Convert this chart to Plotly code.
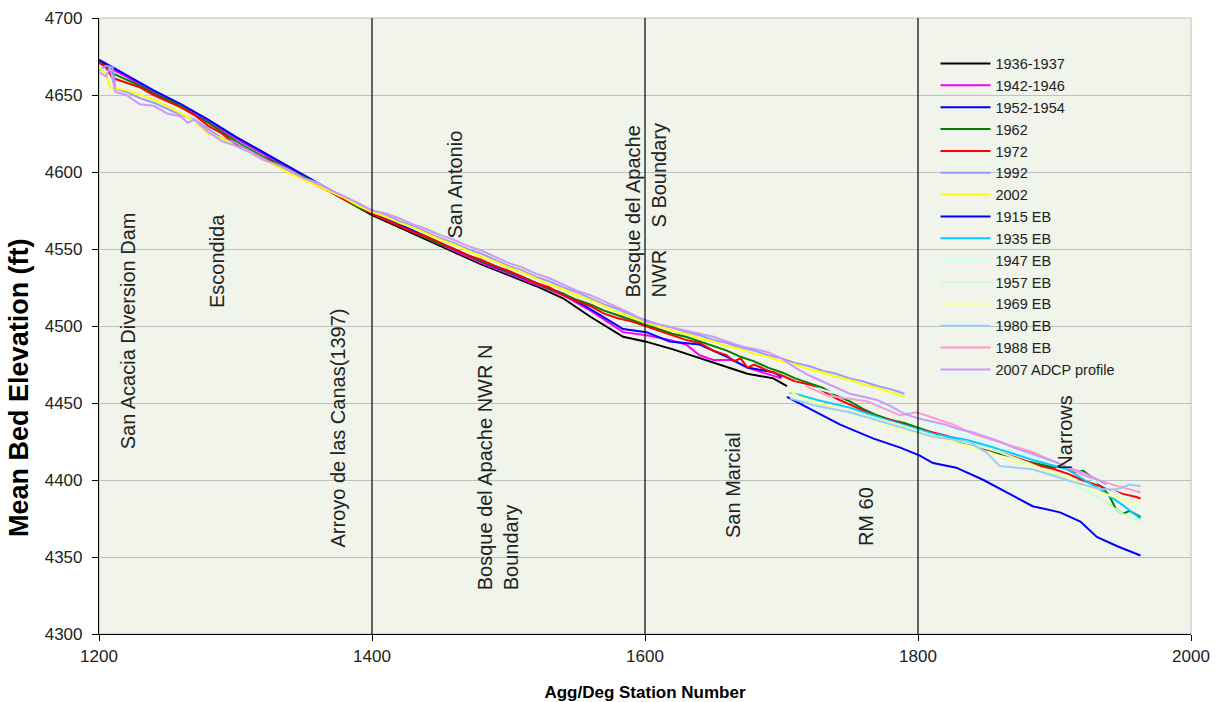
import plotly.graph_objects as go

# ---------------- data ----------------
st_1936 = [1200, 1220, 1240, 1260, 1280, 1300, 1320, 1340, 1360, 1380, 1400, 1420, 1440, 1460, 1480, 1500,
           1520, 1540, 1560, 1584, 1600, 1620, 1640, 1660, 1675, 1694, 1704]
el_1936 = [4672, 4662, 4652, 4643, 4633, 4622, 4612, 4602, 4592, 4582, 4572, 4564, 4556, 4548, 4540, 4533,
           4526, 4518, 4506, 4493, 4490, 4485, 4479, 4473, 4469, 4466, 4461]

st_1942 = [1200, 1220, 1240, 1260, 1280, 1300, 1320, 1340, 1360, 1380, 1400, 1420, 1440, 1460, 1480, 1500,
           1520, 1540, 1560, 1584, 1601, 1618, 1630, 1640, 1650, 1664, 1675, 1694, 1700]
el_1942 = [4671, 4662, 4652, 4643, 4633, 4622, 4612, 4602, 4592, 4582, 4573, 4565, 4557, 4549, 4541, 4534,
           4527, 4520, 4510, 4496, 4494, 4491, 4488, 4481, 4478, 4478, 4473, 4468, 4466]

st_1952 = [1200, 1220, 1240, 1260, 1280, 1300, 1320, 1340, 1360, 1380, 1400, 1420, 1440, 1460, 1480, 1500,
           1520, 1540, 1560, 1584, 1601, 1618, 1640, 1660, 1675, 1694, 1700]
el_1952 = [4673, 4663, 4653, 4644, 4634, 4623, 4613, 4603, 4593, 4583, 4573, 4566, 4558, 4550, 4542, 4535,
           4528, 4521, 4511, 4498, 4496, 4490, 4488, 4480, 4473, 4470, 4467]

st_1962 = [1200, 1210, 1220, 1230, 1240, 1250, 1260, 1270, 1280, 1290, 1300, 1310, 1320, 1330, 1340, 1350,
           1360, 1370, 1380, 1390, 1400, 1410, 1420, 1430, 1440, 1450, 1460, 1470, 1480, 1490, 1500, 1510,
           1520, 1530, 1540, 1550, 1560, 1570, 1580, 1590, 1600, 1610, 1620, 1630, 1640, 1650, 1660, 1670,
           1680, 1690, 1700, 1710, 1720, 1730, 1740, 1750, 1760, 1770, 1780, 1790, 1800, 1810, 1820, 1830,
           1840, 1850, 1860, 1870, 1880, 1890, 1900, 1906, 1915, 1921, 1930, 1940, 1945, 1950, 1955, 1963]
el_1962 = [4672, 4664, 4660, 4656, 4651, 4647, 4643, 4637, 4632, 4626, 4620, 4615, 4610, 4606, 4601, 4597,
           4592, 4587, 4582, 4577, 4573, 4569, 4565, 4561, 4557, 4553, 4550, 4546, 4542, 4539, 4535, 4532,
           4528, 4524, 4521, 4517, 4514, 4510, 4507, 4504, 4501, 4498, 4495, 4493, 4490, 4487, 4484, 4480,
           4477, 4473, 4470, 4466, 4463, 4460, 4455, 4451, 4446, 4442, 4439, 4437, 4434, 4431, 4428, 4425,
           4423, 4420, 4417, 4415, 4412, 4410, 4408, 4410, 4405, 4406, 4400, 4390, 4381, 4378, 4380, 4376]

st_1972 = [1200, 1205, 1210, 1220, 1230, 1240, 1250, 1260, 1270, 1280, 1290, 1300, 1310, 1320, 1330, 1340,
           1350, 1360, 1370, 1380, 1390, 1400, 1410, 1420, 1430, 1440, 1450, 1460, 1470, 1480, 1490, 1500,
           1510, 1520, 1530, 1540, 1550, 1560, 1570, 1580, 1590, 1600, 1610, 1620, 1630, 1640, 1650, 1660,
           1665, 1670, 1675, 1680, 1690, 1700, 1710, 1720, 1730, 1740, 1750, 1760, 1770, 1780, 1790, 1800,
           1810, 1820, 1830, 1840, 1850, 1860, 1870, 1880, 1890, 1900, 1910, 1920, 1930, 1940, 1950, 1960, 1963]
el_1972 = [4671, 4668, 4661, 4658, 4655, 4650, 4646, 4642, 4637, 4630, 4625, 4618, 4614, 4609, 4605, 4601,
           4596, 4591, 4587, 4582, 4578, 4573, 4569, 4565, 4561, 4558, 4554, 4550, 4546, 4543, 4539, 4536,
           4532, 4528, 4525, 4520, 4516, 4513, 4508, 4505, 4503, 4500, 4497, 4494, 4491, 4489, 4484, 4481,
           4477, 4479, 4473, 4475, 4471, 4468, 4464, 4462, 4458, 4453, 4449, 4445, 4441, 4439, 4436, 4433,
           4431, 4429, 4426, 4423, 4420, 4418, 4415, 4412, 4409, 4407, 4404, 4400, 4397, 4394, 4391, 4389, 4388]

st_1992 = [1200, 1205, 1210, 1212, 1220, 1230, 1240, 1250, 1260, 1270, 1280, 1290, 1300, 1310, 1320, 1330,
           1340, 1350, 1360, 1370, 1380, 1390, 1400, 1410, 1420, 1430, 1440, 1450, 1460, 1470, 1480, 1490,
           1500, 1510, 1520, 1530, 1540, 1550, 1560, 1570, 1580, 1590, 1600, 1610, 1620, 1630, 1640, 1650,
           1660, 1670, 1680, 1690, 1700, 1710, 1720, 1730, 1740, 1750, 1760, 1770, 1780, 1790]
el_1992 = [4666, 4669, 4668, 4654, 4652, 4648, 4645, 4641, 4637, 4634, 4628, 4622, 4619, 4614, 4609, 4604,
           4600, 4596, 4592, 4588, 4584, 4579, 4575, 4572, 4568, 4565, 4561, 4557, 4554, 4550, 4547, 4543,
           4539, 4536, 4532, 4529, 4525, 4522, 4518, 4514, 4511, 4507, 4504, 4501, 4499, 4496, 4494, 4491,
           4489, 4486, 4484, 4481, 4479, 4476, 4474, 4471, 4469, 4466, 4464, 4461, 4459, 4456]

st_2002 = [1200, 1205, 1208, 1220, 1230, 1240, 1250, 1260, 1270, 1280, 1290, 1300, 1310, 1320, 1330, 1340,
           1350, 1360, 1370, 1380, 1390, 1400, 1410, 1420, 1430, 1440, 1450, 1460, 1470, 1480, 1490, 1500,
           1510, 1520, 1530, 1540, 1550, 1560, 1570, 1580, 1590, 1600, 1610, 1620, 1630, 1640, 1650, 1660,
           1670, 1680, 1690, 1700, 1710, 1720, 1730, 1740, 1750, 1760, 1770, 1780, 1790]
el_2002 = [4668, 4664, 4655, 4653, 4650, 4647, 4643, 4638, 4633, 4625, 4622, 4617, 4613, 4608, 4604, 4599,
           4595, 4591, 4587, 4583, 4578, 4574, 4571, 4567, 4564, 4560, 4556, 4553, 4549, 4545, 4542, 4538,
           4535, 4531, 4527, 4524, 4520, 4517, 4513, 4509, 4506, 4502, 4500, 4497, 4495, 4492, 4490, 4487,
           4485, 4482, 4480, 4477, 4475, 4472, 4470, 4467, 4465, 4462, 4460, 4457, 4454]

st_1915eb = [1704, 1721, 1743, 1767, 1787, 1801, 1811, 1828, 1848, 1865, 1884, 1904, 1919, 1931, 1946, 1963]
el_1915eb = [4454, 4446, 4436, 4427, 4421, 4416, 4411, 4408, 4400, 4392, 4383, 4379, 4373, 4363, 4357, 4351]

st_1935eb = [1706, 1726, 1750, 1777, 1800, 1811, 1836, 1860, 1884, 1909, 1933, 1948, 1963]
el_1935eb = [4457, 4452, 4447, 4439, 4433, 4430, 4426, 4420, 4413, 4407, 4394, 4385, 4375]

st_1947eb = [1709, 1738, 1760, 1790, 1810, 1836, 1860, 1884, 1909, 1933, 1963]
el_1947eb = [4463, 4457, 4452, 4444, 4437, 4429, 4421, 4415, 4409, 4398, 4383]

st_1957eb = [1712, 1738, 1762, 1790, 1811, 1836, 1860, 1884, 1909, 1933, 1950, 1963]
el_1957eb = [4452, 4447, 4442, 4435, 4429, 4424, 4418, 4410, 4400, 4388, 4378, 4373]

st_1969eb = [1706, 1713, 1750, 1787, 1811, 1836, 1860, 1884, 1909, 1933, 1963]
el_1969eb = [4458, 4454, 4444, 4433, 4428, 4422, 4415, 4409, 4402, 4392, 4384]

st_1980eb = [1706, 1726, 1750, 1777, 1811, 1836, 1850, 1860, 1884, 1909, 1933, 1946, 1955, 1963]
el_1980eb = [4453, 4448, 4444, 4437, 4428, 4425, 4418, 4409, 4407, 4400, 4394, 4394, 4397, 4396]

st_1988eb = [1718, 1733, 1763, 1787, 1799, 1826, 1840, 1862, 1884, 1905, 1921, 1946, 1963]
el_1988eb = [4461, 4455, 4451, 4442, 4444, 4436, 4430, 4424, 4418, 4410, 4403, 4396, 4392]

st_2007 = [1200, 1205, 1208, 1212, 1220, 1230, 1240, 1250, 1260, 1265, 1270, 1280, 1290, 1300, 1310, 1320,
           1330, 1340, 1350, 1360, 1370, 1380, 1390, 1400, 1410, 1420, 1430, 1440, 1450, 1460, 1470, 1480,
           1490, 1500, 1510, 1520, 1530, 1540, 1550, 1560, 1570, 1580, 1590, 1600, 1610, 1620, 1630, 1640,
           1650, 1660, 1670, 1680, 1690, 1700, 1710, 1720, 1730, 1740, 1750, 1760, 1770, 1780, 1790, 1800,
           1810, 1820, 1830, 1840, 1850, 1860, 1870, 1880, 1890, 1900, 1910, 1920, 1930, 1938]
el_2007 = [4665, 4662, 4668, 4652, 4650, 4644, 4643, 4638, 4636, 4632, 4634, 4626, 4620, 4617, 4613, 4608,
           4605, 4601, 4596, 4593, 4588, 4584, 4580, 4575, 4573, 4570, 4566, 4563, 4559, 4556, 4552, 4549,
           4545, 4541, 4538, 4534, 4531, 4527, 4523, 4520, 4516, 4512, 4508, 4503, 4501, 4499, 4497, 4495,
           4493, 4490, 4487, 4485, 4483, 4479, 4473, 4468, 4464, 4460, 4456, 4454, 4452, 4448, 4443, 4440,
           4438, 4436, 4433, 4431, 4428, 4425, 4421, 4418, 4415, 4412, 4408, 4405, 4401, 4397]

series_names = ["1936-1937", "1942-1946", "1952-1954", "1962", "1972", "1992", "2002", "1915 EB",
                "1935 EB", "1947 EB", "1957 EB", "1969 EB", "1980 EB", "1988 EB", "2007 ADCP profile"]
series_colors = ["#000000", "#FF00FF", "#0000FF", "#008000", "#FF0000", "#9999FF", "#FFFF00", "#0000FF",
                 "#00CCFF", "#CCFFFF", "#CCFFCC", "#FFFF99", "#99CCFF", "#FF99CC", "#CC99FF"]
series_x = [st_1936, st_1942, st_1952, st_1962, st_1972, st_1992, st_2002, st_1915eb,
            st_1935eb, st_1947eb, st_1957eb, st_1969eb, st_1980eb, st_1988eb, st_2007]
series_y = [el_1936, el_1942, el_1952, el_1962, el_1972, el_1992, el_2002, el_1915eb,
            el_1935eb, el_1947eb, el_1957eb, el_1969eb, el_1980eb, el_1988eb, el_2007]

divider_stations = [1400, 1600, 1800]

label_texts = ["San Acacia Diversion Dam", "Escondida", "Arroyo de las Canas(1397)", "San Antonio",
               "Bosque del Apache NWR N<br>Boundary", "Bosque del Apache<br>NWR&nbsp;&nbsp;&nbsp;&nbsp;S Boundary",
               "San Marcial", "RM 60", "Narrows"]
label_x = [1221, 1287, 1375, 1461, 1492, 1600, 1664, 1762, 1908]
label_y = [4497, 4542, 4434, 4592, 4408, 4575, 4397, 4376, 4431]

FONT = "Liberation Sans, Arial, sans-serif"

fig = go.Figure()
for name, xs, ys, col in zip(series_names, series_x, series_y, series_colors):
    fig.add_trace(go.Scatter(x=xs, y=ys, name=name, mode="lines",
                             line=dict(color=col, width=2)))

for s in divider_stations:
    fig.add_shape(type="line", xref="x", yref="paper", x0=s, x1=s, y0=0, y1=1,
                  line=dict(color="black", width=1.2), layer="above")

# grey plot border (top / right)
fig.add_shape(type="rect", xref="paper", yref="paper", x0=0, x1=1, y0=0, y1=1,
              line=dict(color="#BBBBBB", width=1), layer="below")

for t, lx, ly in zip(label_texts, label_x, label_y):
    fig.add_annotation(x=lx, y=ly, xref="x", yref="y", text=t, textangle=-90,
                       showarrow=False, align="left",
                       font=dict(family=FONT, size=20, color="#222222"))

# y-axis title (placed like the original, slightly below centre)
fig.add_annotation(xref="paper", yref="paper", x=-0.0733, y=0.401, xanchor="center", yanchor="middle",
                   text="<b>Mean Bed Elevation (ft)</b>", textangle=-90, showarrow=False,
                   font=dict(family=FONT, size=27, color="black"))

fig.update_layout(
    width=1220, height=702,
    margin=dict(l=99, r=29, t=18, b=68),
    paper_bgcolor="white",
    plot_bgcolor="#F0F4EA",
    font=dict(family=FONT, color="#222222"),
    showlegend=True,
    legend=dict(x=0.766, y=0.952, xanchor="left", yanchor="top",
                bgcolor="rgba(0,0,0,0)", font=dict(family=FONT, size=14.5, color="#222222"),
                tracegroupgap=0, itemwidth=50),
)
fig.update_xaxes(range=[1200, 2000], dtick=200, tick0=1200, showgrid=False, zeroline=False,
                 showline=True, linecolor="black", linewidth=1.2, automargin=False,
                 ticks="outside", ticklen=6, tickcolor="black",
                 tickfont=dict(family=FONT, size=17, color="#222222"),
                 title=dict(text="<b>Agg/Deg Station Number</b>", standoff=24,
                            font=dict(family=FONT, size=17, color="black")))
fig.update_yaxes(range=[4300, 4700], dtick=50, tick0=4300, showgrid=True, gridcolor="#C0C0C0",
                 gridwidth=1, zeroline=False, automargin=False,
                 showline=True, linecolor="black", linewidth=1.2,
                 ticks="outside", ticklen=6, tickcolor="black", ticklabelstandoff=6,
                 tickfont=dict(family=FONT, size=17, color="#222222"))

fig.write_html("out.html")
